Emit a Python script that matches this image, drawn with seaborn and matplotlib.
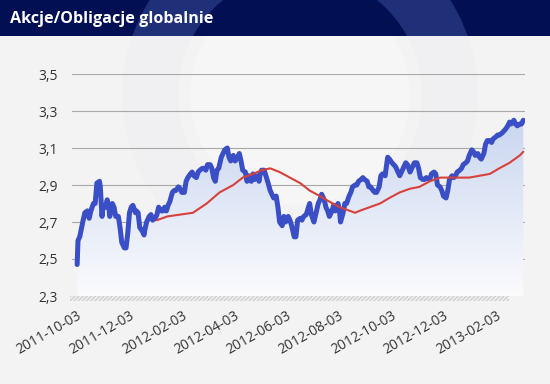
import numpy as np
import pandas as pd
import matplotlib
matplotlib.use('Agg')
import matplotlib.pyplot as plt
import matplotlib.dates as mdates
from matplotlib.patches import Rectangle, PathPatch, Circle
from matplotlib.colors import LinearSegmentedColormap
from matplotlib.ticker import FuncFormatter
import seaborn as sns

title = 'Akcje/Obligacje globalnie'
start = pd.Timestamp('2011-10-03')

# index (days since 2011-10-03) and value
idx_days = [0, 1, 3, 7, 9, 12, 14, 16, 19, 21, 23, 26, 27, 29, 30, 33, 35, 37, 38, 41,
            43, 45, 48, 50, 52, 55, 57, 59, 61, 63, 65, 68, 69, 71, 73, 76, 78, 79, 81, 84,
            86, 88, 91, 93, 95, 98, 100, 102, 104, 106, 108, 111, 113, 115, 118, 120, 122, 125, 127, 129,
            132, 134, 136, 139, 141, 143, 146, 148, 150, 152, 155, 157, 159, 161, 163, 165, 168, 170, 172, 175,
            177, 179, 182, 184, 186, 189, 191, 193, 196, 198, 200, 203, 205, 207, 210, 212, 213, 215, 218, 220,
            222, 225, 227, 229, 232, 234, 236, 239, 241, 243, 246, 248, 250, 253, 255, 257, 260, 262, 264, 267,
            269, 271, 273, 276, 278, 281, 283, 285, 288, 290, 292, 294, 297, 299, 301, 304, 306, 307, 310, 312,
            314, 317, 319, 321, 324, 326, 328, 331, 333, 335, 338, 340, 342, 345, 347, 349, 352, 354, 356, 359,
            361, 362, 364, 367, 369, 371, 374, 376, 379, 383, 385, 388, 390, 393, 396, 398, 400, 403, 405, 407,
            411, 413, 416, 418, 420, 423, 425, 427, 430, 432, 434, 437, 439, 441, 443, 446, 448, 450, 453, 455,
            457, 460, 462, 464, 467, 469, 471, 474, 476, 478, 481, 483, 485, 488, 490, 492, 495, 497, 499, 502,
            504, 506, 509, 511, 513, 516, 518, 520]
idx_vals = [2.47, 2.60, 2.62, 2.71, 2.75, 2.76, 2.72, 2.76, 2.80, 2.80, 2.91, 2.92, 2.89, 2.73, 2.78, 2.78, 2.82, 2.78, 2.73, 2.80,
            2.78, 2.73, 2.73, 2.67, 2.59, 2.56, 2.56, 2.64, 2.75, 2.78, 2.79, 2.75, 2.76, 2.75, 2.67, 2.65, 2.63, 2.66, 2.70, 2.73,
            2.74, 2.71, 2.72, 2.74, 2.78, 2.76, 2.76, 2.78, 2.76, 2.79, 2.81, 2.86, 2.87, 2.87, 2.89, 2.88, 2.86, 2.86, 2.92, 2.94,
            2.96, 2.97, 2.95, 2.94, 2.97, 2.98, 2.99, 2.99, 2.98, 3.01, 3.01, 2.99, 2.94, 2.92, 2.98, 2.99, 3.05, 3.07, 3.09, 3.10,
            3.05, 3.03, 3.06, 3.03, 3.04, 3.07, 3.03, 2.98, 2.97, 2.92, 2.95, 2.92, 2.96, 2.93, 2.95, 2.92, 2.95, 2.98, 2.98, 2.95,
            2.92, 2.87, 2.85, 2.83, 2.84, 2.78, 2.70, 2.68, 2.73, 2.70, 2.73, 2.71, 2.68, 2.62, 2.62, 2.71, 2.72, 2.71, 2.73, 2.74,
            2.77, 2.80, 2.74, 2.70, 2.74, 2.80, 2.82, 2.85, 2.82, 2.78, 2.76, 2.73, 2.76, 2.79, 2.76, 2.80, 2.75, 2.70, 2.75, 2.80,
            2.80, 2.84, 2.86, 2.89, 2.90, 2.90, 2.92, 2.93, 2.94, 2.93, 2.92, 2.89, 2.89, 2.87, 2.86, 2.86, 2.89, 2.95, 2.96, 2.95,
            3.02, 3.05, 3.04, 3.02, 3.01, 3.00, 2.97, 2.95, 2.98, 3.02, 3.01, 2.97, 2.99, 3.02, 3.02, 2.99, 2.94, 2.93, 2.93, 2.94,
            2.93, 2.96, 2.97, 2.96, 2.90, 2.89, 2.87, 2.84, 2.83, 2.87, 2.93, 2.95, 2.94, 2.95, 2.97, 2.98, 2.99, 3.01, 3.02, 3.03,
            3.06, 3.09, 3.08, 3.06, 3.07, 3.05, 3.04, 3.07, 3.12, 3.14, 3.14, 3.13, 3.15, 3.16, 3.17, 3.17, 3.18, 3.19, 3.20, 3.22,
            3.24, 3.23, 3.25, 3.23, 3.22, 3.23, 3.23, 3.25]

# moving average (red)
ma_days = [93, 105, 120, 135, 151, 166, 182, 193, 205, 215, 225, 236, 248, 260, 271, 283, 294, 306, 318, 324,
           329, 341, 353, 364, 376, 388, 399, 411, 423, 434, 446, 457, 469, 481, 492, 504, 516, 520]
ma_vals = [2.71, 2.73, 2.74, 2.75, 2.80, 2.86, 2.90, 2.94, 2.96, 2.98, 2.99, 2.97, 2.94, 2.91, 2.87, 2.84, 2.81, 2.78, 2.76, 2.75,
           2.76, 2.78, 2.80, 2.83, 2.86, 2.88, 2.89, 2.92, 2.94, 2.94, 2.94, 2.94, 2.95, 2.96, 2.99, 3.02, 3.06, 3.08]

tick_labels = ['2011-10-03', '2011-12-03', '2012-02-03', '2012-04-03', '2012-06-03',
               '2012-08-03', '2012-10-03', '2012-12-03', '2013-02-03']
y_ticks = [2.3, 2.5, 2.7, 2.9, 3.1, 3.3, 3.5]

df = pd.DataFrame({'date': start + pd.to_timedelta(idx_days, unit='D'), 'val': idx_vals})
ma = pd.DataFrame({'date': start + pd.to_timedelta(ma_days, unit='D'), 'val': ma_vals})

sns.set_style('white')
plt.rcParams['font.family'] = ['Open Sans', 'DejaVu Sans']
plt.rcParams['hatch.linewidth'] = 0.6

fig = plt.figure(figsize=(5.5, 3.84), dpi=100, facecolor='#f3f3f3')

# faint background watermark
bg = fig.add_axes([0, 0, 1, 1], zorder=-5)
bg.set_xlim(0, 550)
bg.set_ylim(384, 0)
bg.axis('off')
bg.add_patch(Circle((300, 95), 150, facecolor='none', edgecolor='#f0f0f2', linewidth=40))
bg.add_patch(Circle((300, 95), 110, facecolor='#f6f6f7', edgecolor='none'))

# title bar
bar = fig.add_axes([0, 1 - 36 / 384, 1, 36 / 384], zorder=5)
bar.set_xlim(0, 550)
bar.set_ylim(36, 0)
bar.axis('off')
bar.add_patch(Rectangle((0, 0), 550, 36, facecolor='#020f52', edgecolor='none'))
ring = Circle((300, 95), 150, facecolor='none', edgecolor='#1f2f78', linewidth=40)
bar.add_patch(ring)
ring.set_clip_path(bar.patches[0])
bar.text(10, 19, title, color='white', fontsize=11.6, fontweight='bold', va='center', ha='left')

ax = fig.add_axes([72 / 550, 1 - 296 / 384, (525 - 72) / 550, (296 - 74) / 384])
ax.set_facecolor('none')

xmin = mdates.date2num(start - pd.Timedelta(days=6))
xmax = mdates.date2num(start + pd.Timedelta(days=522))

# gradient fill under the index line
xnum = mdates.date2num(df['date'])
poly = ax.fill_between(xnum, df['val'], 2.3, color='none', linewidth=0)
clip = PathPatch(poly.get_paths()[0], transform=ax.transData, facecolor='none', edgecolor='none')
ax.add_patch(clip)
cmap = LinearSegmentedColormap.from_list('fade', ['#fbfbfd', '#c9d6f0'])
grad = np.linspace(0, 1, 256).reshape(-1, 1)
im = ax.imshow(grad, extent=[xnum.min(), xnum.max(), 2.3, 3.26], origin='lower',
               aspect='auto', cmap=cmap, zorder=1)
im.set_clip_path(clip)

for t in y_ticks[1:]:
    ax.axhline(t, color='#a8a8a8', linewidth=0.8, zorder=0)
# hatched floor band under the plot
ax.add_patch(Rectangle((-0.005, -0.022), 0.97, 0.022, transform=ax.transAxes, clip_on=False,
                       facecolor='#ececec', edgecolor='#c4c4c4', hatch='////////', linewidth=0, zorder=2))

sns.lineplot(data=df, x='date', y='val', color='#3a4ec6', linewidth=3.6, ax=ax, zorder=3)
sns.lineplot(data=ma, x='date', y='val', color='#d8403c', linewidth=1.5, ax=ax, zorder=4)

ax.set_xlim(xmin, xmax)
ax.set_ylim(2.3, 3.5)
ax.set_yticks(y_ticks)
ax.yaxis.set_major_formatter(FuncFormatter(lambda v, p: f'{v:.1f}'.replace('.', ',')))
ax.set_xticks(mdates.date2num(pd.to_datetime(tick_labels)))
ax.set_xticklabels(tick_labels, rotation=30, ha='right', rotation_mode='anchor')
ax.tick_params(axis='both', length=0, labelsize=10, labelcolor='#333333')
ax.tick_params(axis='y', pad=10)
ax.tick_params(axis='x', pad=9)
ax.set_xlabel('')
ax.set_ylabel('')
for s in ax.spines.values():
    s.set_visible(False)

fig.savefig('out.png', dpi=100, facecolor=fig.get_facecolor())
